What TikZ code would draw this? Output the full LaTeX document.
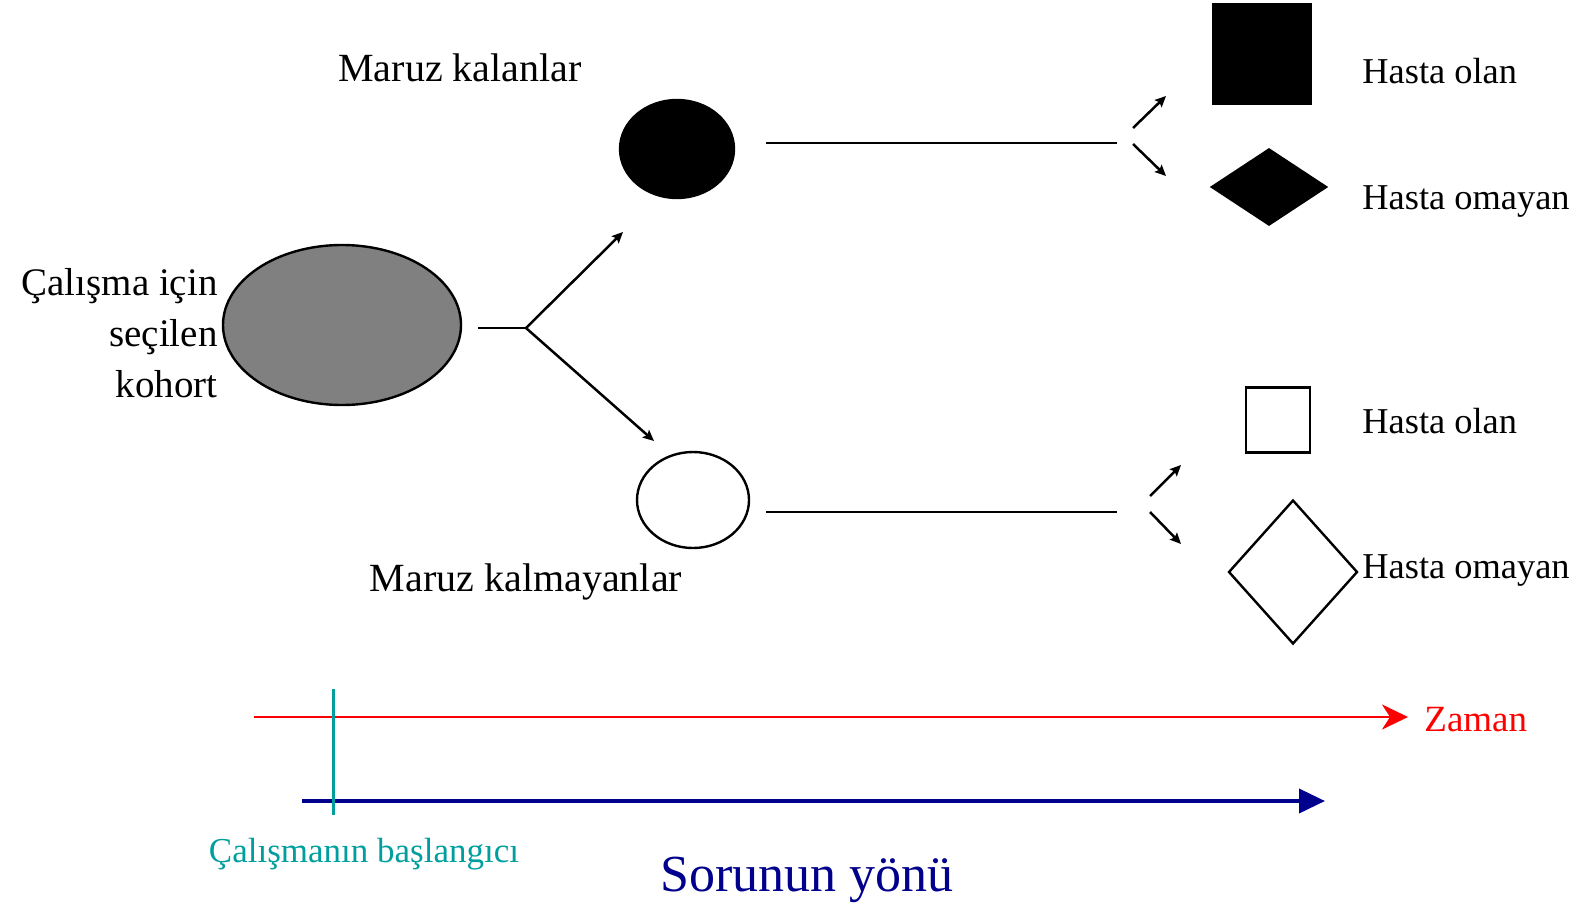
\documentclass[tikz,border=0pt]{standalone}
\usepackage{fontspec}
\setmainfont{Liberation Serif}
\usetikzlibrary{shapes.geometric,arrows.meta}
\definecolor{startcol}{RGB}{0,158,158}
\definecolor{dircol}{RGB}{0,0,140}
\definecolor{cohortgray}{RGB}{128,128,128}
\tikzset{
  shapebox/.style={draw=black, line width=1.2pt, inner sep=0pt},
  lbl/.style={font=\fontsize{19}{23}\selectfont, inner sep=0pt},
  outlbl/.style={font=\fontsize{18.2}{22}\selectfont, inner sep=0pt, anchor=west},
  link/.style={line width=1.25pt},
  branch/.style={line width=1.25pt, -{Stealth[length=5.5pt,width=5pt,inset=1pt]}},
}
\begin{document}
\begin{tikzpicture}[x=0.5pt,y=-0.5pt]
\useasboundingbox (0,0) rectangle (1582,904);

% groups
\node[shapebox, ellipse, fill=cohortgray, minimum width=119pt, minimum height=80pt] (cohort) at (342,325) {};
\node[shapebox, ellipse, fill=black, minimum width=57pt, minimum height=49pt] (exp) at (677,149) {};
\node[shapebox, ellipse, fill=white, minimum width=56pt, minimum height=48pt] (unexp) at (693,500) {};

% outcomes
\node[shapebox, rectangle, fill=black, minimum width=49pt, minimum height=50pt] (sqA) at (1262,54) {};
\node[shapebox, diamond, fill=black, minimum width=57.5pt, minimum height=38pt] (dmA) at (1269,187) {};
\node[shapebox, rectangle, fill=white, minimum width=32pt, minimum height=32.5pt] (sqB) at (1278,420) {};
\node[shapebox, diamond, fill=white, minimum width=64.5pt, minimum height=72pt] (dmB) at (1293,572) {};

% labels
\node[lbl, font=\fontsize{20}{24}\selectfont] (lexp) at (460,68) {Maruz kalanlar};
\node[lbl, font=\fontsize{20}{24}\selectfont] (lunexp) at (526,582) {Maruz kalmayanlar};
\node[lbl, align=right, anchor=east, font=\fontsize{19.5}{25.5}\selectfont] (lcohort) at (218,333) {Çalışma için\\seçilen\\kohort};
\node[outlbl] (lA1) at (1362,71) {Hasta olan};
\node[outlbl] (lA2) at (1362,202) {Hasta omayan};
\node[outlbl] (lB1) at (1362,421) {Hasta olan};
\node[outlbl] (lB2) at (1362,571) {Hasta omayan};

% split of the cohort
\coordinate (cstart) at (478,328);
\coordinate (fork) at (526,328);
\coordinate (toexp) at (623,232);
\coordinate (tounexp) at (654,441);
\draw[link] (cstart) -- (fork);
\draw[branch] (fork) -- (toexp);
\draw[branch] (fork) -- (tounexp);

% follow-up of the exposed
\coordinate (e1) at (766,143);
\coordinate (e2) at (1117,143);
\draw[link] (e1) -- (e2);
\coordinate (ea) at (1133,128);
\coordinate (eaT) at (1166,96);
\coordinate (eb) at (1133,144);
\coordinate (ebT) at (1166,176);
\draw[branch] (ea) -- (eaT);
\draw[branch] (eb) -- (ebT);

% follow-up of the unexposed
\coordinate (u1) at (766,512);
\coordinate (u2) at (1117,512);
\draw[link] (u1) -- (u2);
\coordinate (ua) at (1150,496);
\coordinate (uaT) at (1181,465);
\coordinate (ub) at (1150,512);
\coordinate (ubT) at (1181,544);
\draw[branch] (ua) -- (uaT);
\draw[branch] (ub) -- (ubT);

% time axis
\coordinate (t0) at (254,717);
\coordinate (t1) at (1408,717);
\draw[red, line width=1.4pt, -{Stealth[length=13pt,width=12.5pt,inset=4pt]}] (t0) -- (t1);
\node[lbl, anchor=west, text=red, font=\fontsize{18.5}{22}\selectfont] (lzaman) at (1424,720) {Zaman};

% direction of the question
\coordinate (d0) at (302,801);
\coordinate (d1) at (1325,801);
\draw[dircol, line width=1.9pt, -{Triangle[length=13pt,width=12pt]}] (d0) -- (d1);
\node[text=dircol, font=\fontsize{26}{30}\selectfont, inner sep=0pt] (lsorun) at (807,880) {Sorunun yönü};

% start of the study
\coordinate (s0) at (333,689);
\coordinate (s1) at (333,815);
\draw[startcol, line width=1.5pt] (s0) -- (s1);
\node[text=startcol, font=\fontsize{17.5}{21}\selectfont, inner sep=0pt] (lstart) at (364,854) {Çalışmanın başlangıcı};
\end{tikzpicture}
\end{document}
